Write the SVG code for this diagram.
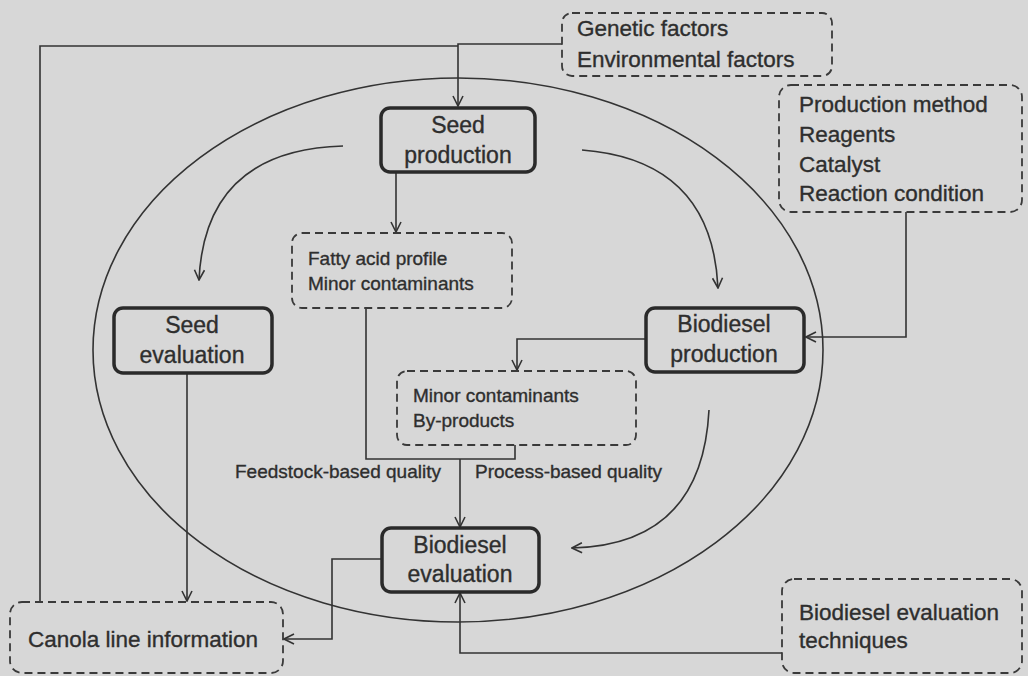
<svg xmlns="http://www.w3.org/2000/svg" width="1028" height="676" viewBox="0 0 1028 676">
<defs>
<marker id="arr" viewBox="0 0 12 12" refX="11" refY="6" markerWidth="12" markerHeight="12" markerUnits="userSpaceOnUse" orient="auto">
<path d="M1,1 L11,6 L1,11" fill="none" stroke="#333" stroke-width="1.6"/>
</marker>
<style>
.solid{fill:none;stroke:#2a2a2a;stroke-width:3.5}
.dash{fill:none;stroke:#3a3a3a;stroke-width:1.8;stroke-dasharray:8 5}
.ln{fill:none;stroke:#333;stroke-width:1.6}
text{font-family:"Liberation Sans",Arial,sans-serif;fill:#2e2e2e;stroke:#2e2e2e;stroke-width:0.35}
.big{font-size:23px}
.mid{font-size:22.5px}
.sm{font-size:19px}
</style>
</defs>
<rect x="0" y="0" width="1028" height="676" fill="#d7d7d7"/>
<ellipse cx="458" cy="350" rx="365" ry="272" fill="none" stroke="#333" stroke-width="1.6"/>
<g id="connectors">
<path class="ln" d="M40,602 L40,46 L458,46"/>
<path class="ln" d="M562,44 L458,44 L458,106" marker-end="url(#arr)"/>
<path class="ln" d="M396,172 L396,232" marker-end="url(#arr)"/>
<path class="ln" d="M343,146 Q205,150 199,280" marker-end="url(#arr)"/>
<path class="ln" d="M582,150 Q712,160 718,288" marker-end="url(#arr)"/>
<path class="ln" d="M906,212 L906,337 L806,337" marker-end="url(#arr)"/>
<path class="ln" d="M645,339 L517,339 L517,370" marker-end="url(#arr)"/>
<path class="ln" d="M709,410 Q702,545 572,548" marker-end="url(#arr)"/>
<path class="ln" d="M366,308 L366,459 L515,459 L515,445"/>
<path class="ln" d="M460,459 L460,527" marker-end="url(#arr)"/>
<path class="ln" d="M187,373 L187,601" marker-end="url(#arr)"/>
<path class="ln" d="M381,559 L332,559 L332,639 L284,639" marker-end="url(#arr)"/>
<path class="ln" d="M782,653 L460,653 L460,593" marker-end="url(#arr)"/>
</g>
<g id="genetic">
<rect class="dash" x="562" y="13" width="270" height="63" rx="10"/>
<text class="mid" x="577" y="36">Genetic factors</text>
<text class="mid" x="577" y="67">Environmental factors</text>
</g>
<g id="method">
<rect class="dash" x="779" y="85" width="243" height="127" rx="12"/>
<text class="mid" x="799" y="112">Production method</text>
<text class="mid" x="799" y="142">Reagents</text>
<text class="mid" x="799" y="172">Catalyst</text>
<text class="mid" x="799" y="201">Reaction condition</text>
</g>
<g id="seed-production">
<rect class="solid" x="381" y="108" width="154" height="64" rx="9"/>
<text class="big" x="458" y="133" text-anchor="middle">Seed</text>
<text class="big" x="458" y="163" text-anchor="middle">production</text>
</g>
<g id="fatty">
<rect class="dash" x="292" y="233" width="220" height="75" rx="10"/>
<text class="sm" x="308" y="265">Fatty acid profile</text>
<text class="sm" x="308" y="290">Minor contaminants</text>
</g>
<g id="seed-evaluation">
<rect class="solid" x="114" y="308" width="158" height="65" rx="9"/>
<text class="big" x="192" y="333" text-anchor="middle">Seed</text>
<text class="big" x="192" y="363" text-anchor="middle">evaluation</text>
</g>
<g id="biodiesel-production">
<rect class="solid" x="646" y="308" width="158" height="64" rx="9"/>
<text class="big" x="724" y="332" text-anchor="middle">Biodiesel</text>
<text class="big" x="724" y="362" text-anchor="middle">production</text>
</g>
<g id="byproducts">
<rect class="dash" x="397" y="371" width="239" height="74" rx="10"/>
<text class="sm" x="413" y="402">Minor contaminants</text>
<text class="sm" x="413" y="427">By-products</text>
</g>
<g id="labels">
<text class="sm" x="235" y="478">Feedstock-based quality</text>
<text class="sm" x="475" y="478">Process-based quality</text>
</g>
<g id="biodiesel-evaluation">
<rect class="solid" x="382" y="528" width="157" height="64" rx="9"/>
<text class="big" x="460" y="553" text-anchor="middle">Biodiesel</text>
<text class="big" x="460" y="582" text-anchor="middle">evaluation</text>
</g>
<g id="canola">
<rect class="dash" x="10" y="602" width="273" height="71" rx="12"/>
<text class="mid" x="28" y="647">Canola line information</text>
</g>
<g id="techniques">
<rect class="dash" x="782" y="579" width="240" height="94" rx="12"/>
<text class="mid" x="799" y="620">Biodiesel evaluation</text>
<text class="mid" x="799" y="648">techniques</text>
</g>
</svg>
